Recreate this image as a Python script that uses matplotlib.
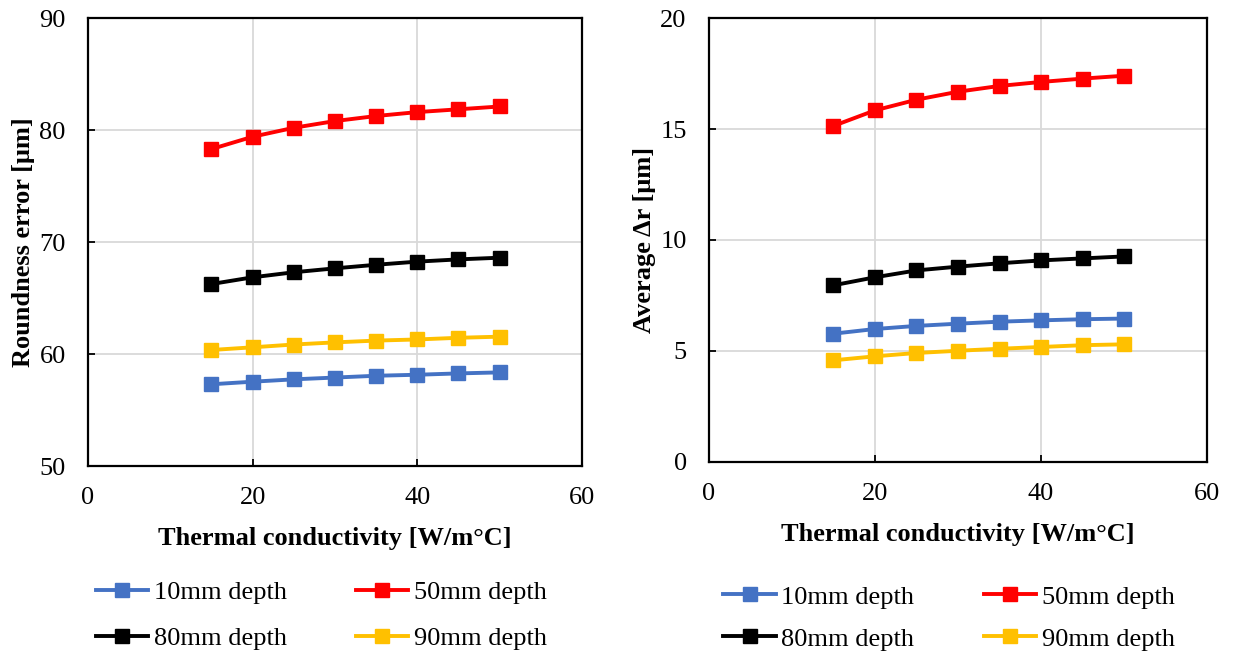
import numpy as np
import matplotlib.pyplot as plt

# thermal conductivity values used in the simulations [W/m°C]
conductivity = [15, 20, 25, 30, 35, 40, 45, 50]

# roundness error [um] for each measuring depth
roundness_10 = [57.3, 57.53, 57.74, 57.9, 58.06, 58.15, 58.27, 58.36]
roundness_50 = [78.3, 79.4, 80.2, 80.8, 81.25, 81.6, 81.85, 82.1]
roundness_80 = [66.25, 66.85, 67.3, 67.65, 67.97, 68.25, 68.45, 68.6]
roundness_90 = [60.36, 60.6, 60.85, 61.04, 61.2, 61.3, 61.45, 61.55]

# average radial deviation [um] for each measuring depth
dr_10 = [5.78, 5.99, 6.13, 6.23, 6.32, 6.38, 6.43, 6.46]
dr_50 = [15.14, 15.84, 16.32, 16.68, 16.94, 17.12, 17.27, 17.4]
dr_80 = [7.96, 8.32, 8.63, 8.8, 8.95, 9.08, 9.17, 9.26]
dr_90 = [4.58, 4.76, 4.91, 5.01, 5.1, 5.18, 5.26, 5.3]

labels = ['10mm depth', '50mm depth', '80mm depth', '90mm depth']
colors = ['#4472C4', '#FF0000', '#000000', '#FFC000']

plt.rcParams['font.family'] = ['Liberation Serif', 'DejaVu Serif']
plt.rcParams['font.size'] = 19

fig = plt.figure(figsize=(12.39, 6.55), dpi=100)
ax1 = fig.add_axes([0.0710, 0.2885, 0.3987, 0.684])
ax2 = fig.add_axes([0.5722, 0.2947, 0.4020, 0.6778])


def draw(ax, series, ylim, yticks, ylabel, leg_x, leg_y, spacing):
    lines = []
    for vals, lab, col in zip(series, labels, colors):
        ln, = ax.plot(conductivity, vals, color=col, lw=2.8, marker='s',
                      markersize=10.5, label=lab)
        lines.append(ln)
    ax.set_xlim(0, 60)
    ax.set_xticks([0, 20, 40, 60])
    ax.set_ylim(*ylim)
    ax.set_yticks(yticks)
    ax.grid(True, color='#D9D9D9', lw=1.3)
    ax.set_axisbelow(True)
    for sp in ax.spines.values():
        sp.set_linewidth(1.6)
        sp.set_color('black')
    ax.tick_params(direction='in', length=5, width=1.3, labelsize=19)
    ax.tick_params(axis='y', pad=16)
    ax.tick_params(axis='x', pad=15)
    ax.set_xlabel('Thermal conductivity [W/m°C]', fontweight='bold',
                  labelpad=13)
    ax.set_ylabel(ylabel, fontweight='bold', labelpad=3)
    # two-row legend: 10/50 on top, 80/90 below
    order = [0, 2, 1, 3]
    ax.legend([lines[i] for i in order], [labels[i] for i in order],
              ncol=2, frameon=False, fontsize=19,
              loc='center', bbox_to_anchor=(leg_x, leg_y),
              handlelength=2.0, handletextpad=0.2, columnspacing=2.62,
              labelspacing=spacing)


draw(ax1, [roundness_10, roundness_50, roundness_80, roundness_90],
     (50, 90), [50, 60, 70, 80, 90], 'Roundness error [μm]',
     0.472, -0.333, 0.85)
draw(ax2, [dr_10, dr_50, dr_80, dr_90],
     (0, 20), [0, 5, 10, 15, 20], 'Average Δr [μm]',
     0.482, -0.351, 0.7)

fig.savefig('out.png', dpi=100)
